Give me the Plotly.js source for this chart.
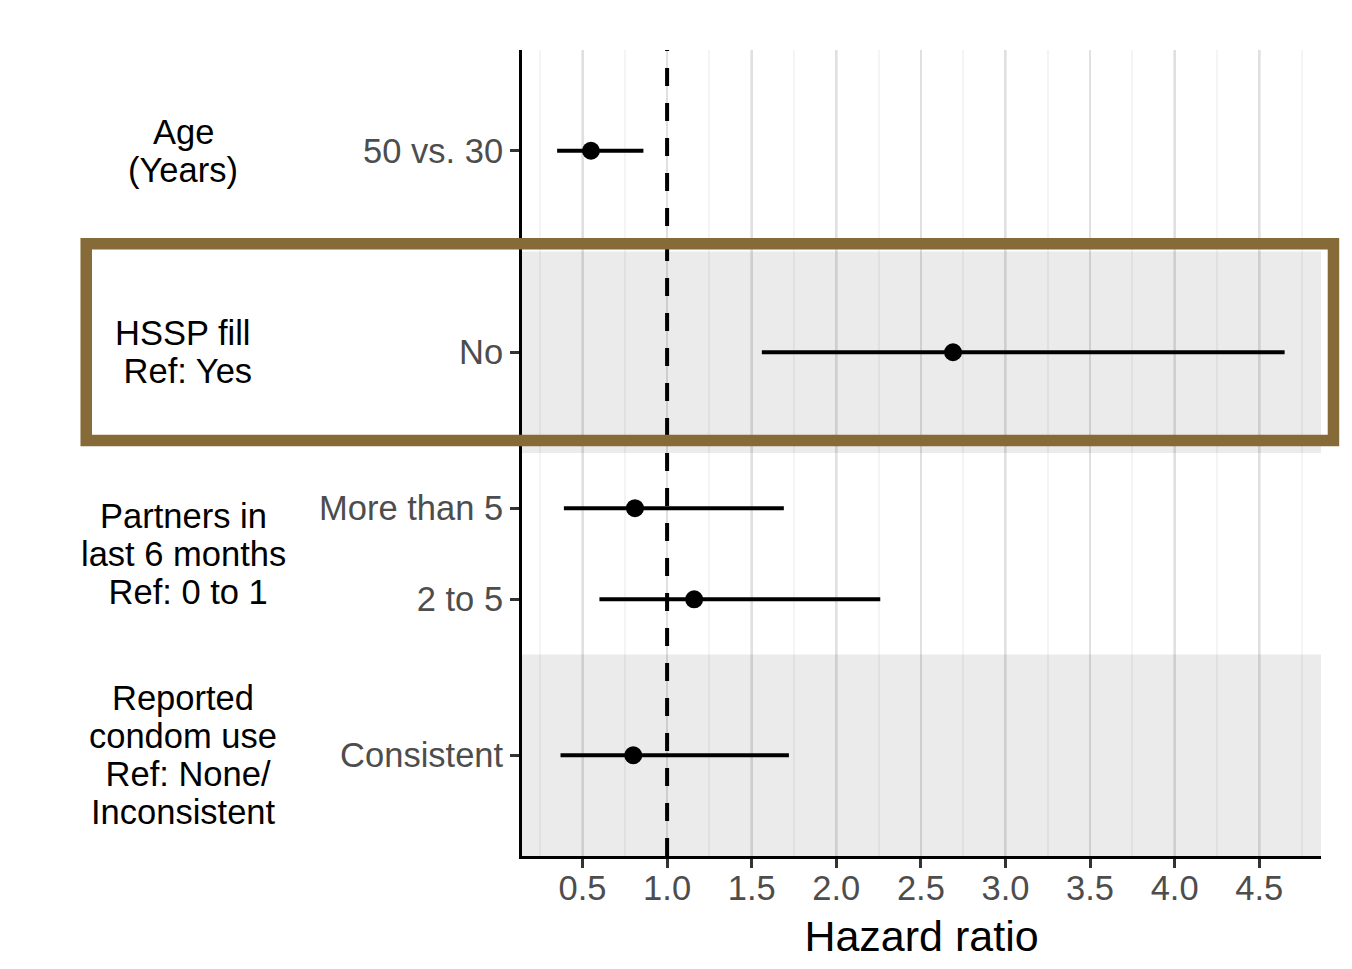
<!DOCTYPE html>
<html>
<head>
<meta charset="utf-8">
<script src="https://cdn.plot.ly/plotly-3.0.1.min.js"></script>
<style>html,body{margin:0;padding:0;background:#fff;}#chart{width:1352px;height:969px;}</style>
</head>
<body>
<div id="chart"></div>
<script>
// ---- data ----
const categories = ["50 vs. 30", "No", "More than 5", "2 to 5", "Consistent"];
const groupOf    = [0, 1, 2, 2, 3];
const groupLabels = [
  ["Age", "(Years)"],
  ["HSSP fill", "\u00a0Ref: Yes"],
  ["Partners in", "last 6 months", "\u00a0Ref: 0 to 1"],
  ["Reported", "condom use", "\u00a0Ref: None/", "Inconsistent"]
];
const hazardRatio = [0.55, 2.69, 0.81, 1.16, 0.80];
const ciLower     = [0.35, 1.56, 0.39, 0.60, 0.37];
const ciUpper     = [0.86, 4.65, 1.69, 2.26, 1.72];
const xTickVals   = [0.5, 1.0, 1.5, 2.0, 2.5, 3.0, 3.5, 4.0, 4.5];

// ---- layout helpers ----
const nGroups = groupLabels.length;
const groupCenter = g => nGroups - g - 0.5;
const within = 0.226;
const yPos = categories.map((c, i) => {
  const g = groupOf[i];
  const members = categories.map((_, j) => j).filter(j => groupOf[j] === g);
  const k = members.indexOf(i), n = members.length;
  return n > 1 ? groupCenter(g) + ((n - 1) / 2 - k) * (2 * within / (n - 1)) : groupCenter(g);
});

const FONT = "Liberation Sans, Arial, Helvetica, sans-serif";

const trace = {
  type: "scatter",
  mode: "markers",
  x: hazardRatio,
  y: yPos,
  marker: {size: 18, color: "#000"},
  error_x: {
    type: "data", symmetric: false,
    array: hazardRatio.map((v, i) => ciUpper[i] - v),
    arrayminus: hazardRatio.map((v, i) => v - ciLower[i]),
    width: 0, thickness: 4, color: "#000"
  },
  hoverinfo: "skip",
  showlegend: false
};

const shapes = [];
for (let g = 1; g < nGroups; g += 2) {
  shapes.push({type: "rect", layer: "below", xref: "paper", yref: "y",
    x0: 0, x1: 1, y0: groupCenter(g) - 0.5, y1: groupCenter(g) + 0.5,
    fillcolor: "#EBEBEB", line: {width: 0}});
}
shapes.push({type: "line", layer: "below", xref: "x", yref: "paper",
  x0: 1, x1: 1, y0: 0, y1: 1, line: {color: "#000", width: 4, dash: "18px,17px"}});
// highlight box around the HSSP row
shapes.push({type: "rect", layer: "above", xref: "paper", yref: "paper",
  x0: -0.5454, x1: 1.0156, y0: 0.5155, y1: 0.7596,
  line: {color: "#866B39", width: 11.5}, fillcolor: "rgba(0,0,0,0)"});

const annotations = [];
groupLabels.forEach((lines, g) => {
  const n = lines.length;
  lines.forEach((t, i) => {
    annotations.push({xref: "paper", yref: "y", x: -0.42375, y: groupCenter(g),
      yshift: ((n - 1) / 2 - i) * 38, xanchor: "center", yanchor: "middle",
      showarrow: false, text: t, font: {family: FONT, size: 34.5, color: "#000"}});
  });
});

const layout = {
  width: 1352, height: 969,
  margin: {l: 522, r: 31, t: 50, b: 113},
  paper_bgcolor: "#fff", plot_bgcolor: "#fff",
  font: {family: FONT},
  xaxis: {
    range: [0.1424, 4.865],
    tickvals: xTickVals, ticktext: xTickVals.map(v => v.toFixed(1)),
    ticks: "outside", ticklen: 9, tickwidth: 3, tickcolor: "#333",
    ticklabelstandoff: -9,
    tickfont: {family: FONT, size: 34.5, color: "#4D4D4D"},
    showgrid: true, gridcolor: "rgba(0,0,0,0.08)", gridwidth: 2.5,
    minor: {dtick: 0.25, tick0: 0, showgrid: true, gridcolor: "rgba(0,0,0,0.045)", gridwidth: 2, ticks: ""},
    showline: true, linecolor: "#000", linewidth: 3,
    zeroline: false,
    title: {text: "Hazard ratio", font: {family: FONT, size: 43, color: "#000"}, standoff: 15}
  },
  yaxis: {
    range: [0, nGroups],
    tickvals: yPos, ticktext: categories,
    ticks: "outside", ticklen: 9, tickwidth: 3, tickcolor: "#333",
    tickfont: {family: FONT, size: 34.5, color: "#4D4D4D"},
    showgrid: false, zeroline: false,
    showline: true, linecolor: "#000", linewidth: 3
  },
  shapes: shapes,
  annotations: annotations
};

Plotly.newPlot("chart", [trace], layout, {displayModeBar: false, staticPlot: true});
</script>
</body>
</html>
